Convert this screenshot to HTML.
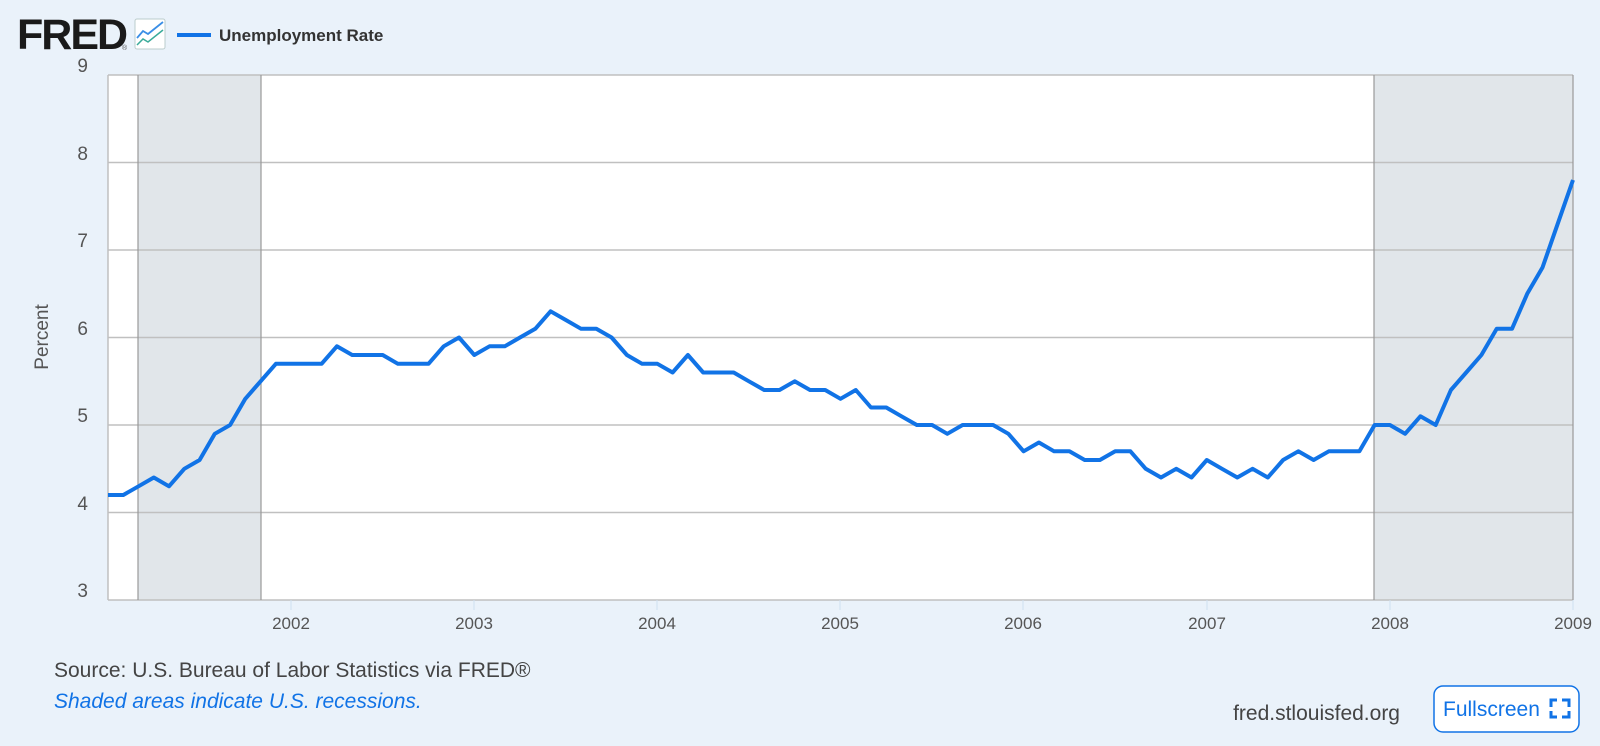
<!DOCTYPE html>
<html><head><meta charset="utf-8"><style>
html,body{margin:0;padding:0;background:#eaf2fa;}
svg{display:block;font-family:"Liberation Sans",sans-serif;}
</style></head><body>
<svg width="1600" height="746" viewBox="0 0 1600 746" xmlns="http://www.w3.org/2000/svg">
<rect width="1600" height="746" fill="#eaf2fa"/>
<text x="17" y="49" font-size="43" font-weight="bold" fill="#1a1a1a" letter-spacing="-2">FRED</text>
<text x="122" y="50" font-size="7" fill="#555">®</text>
<rect x="135" y="19" width="30" height="30" rx="2" fill="#fff" stroke="#bcc" stroke-width="1"/>
<polyline points="137,38 143,31 148,34 163,22" fill="none" stroke="#3a8ee6" stroke-width="1.8"/>
<polyline points="137,45 143,39 148,42 163,30" fill="none" stroke="#3aab9a" stroke-width="1.5"/>
<line x1="177" y1="35" x2="211" y2="35" stroke="#1173e6" stroke-width="4"/>
<text x="219" y="41" font-size="17" font-weight="bold" fill="#333">Unemployment Rate</text>
<rect x="108" y="75" width="1465" height="525" fill="#fff"/>
<rect x="138" y="75" width="123" height="525" fill="#e1e6ea"/>
<rect x="1374" y="75" width="199" height="525" fill="#e1e6ea"/>
<g stroke="#c0c0c0" stroke-width="1.5">
<line x1="108" y1="75" x2="1573" y2="75"/><line x1="108" y1="162.5" x2="1573" y2="162.5"/>
<line x1="108" y1="250" x2="1573" y2="250"/><line x1="108" y1="337.5" x2="1573" y2="337.5"/>
<line x1="108" y1="425" x2="1573" y2="425"/><line x1="108" y1="512.5" x2="1573" y2="512.5"/>
<line x1="108" y1="600" x2="1573" y2="600"/>
</g>
<g stroke="#999" stroke-width="1.2"><line x1="138" y1="75" x2="138" y2="600"/><line x1="261" y1="75" x2="261" y2="600"/><line x1="1374" y1="75" x2="1374" y2="600"/><line x1="1573" y1="75" x2="1573" y2="600"/></g>
<line x1="108" y1="75" x2="108" y2="600" stroke="#c0c0c0" stroke-width="1.5"/>
<g font-size="19" fill="#555" text-anchor="end">
<text x="88" y="72">9</text><text x="88" y="160">8</text><text x="88" y="247">7</text><text x="88" y="335">6</text><text x="88" y="422">5</text><text x="88" y="510">4</text><text x="88" y="597">3</text>
</g>
<text transform="translate(48,337) rotate(-90)" font-size="19" fill="#555" text-anchor="middle">Percent</text>
<g stroke="#cfe0f0" stroke-width="1"><line x1="291" y1="600" x2="291" y2="610"/><line x1="474" y1="600" x2="474" y2="610"/><line x1="657" y1="600" x2="657" y2="610"/><line x1="840" y1="600" x2="840" y2="610"/><line x1="1023" y1="600" x2="1023" y2="610"/><line x1="1207" y1="600" x2="1207" y2="610"/><line x1="1390" y1="600" x2="1390" y2="610"/><line x1="1573" y1="600" x2="1573" y2="610"/></g>
<g font-size="17" fill="#555" text-anchor="middle">
<text x="291" y="629">2002</text><text x="474" y="629">2003</text><text x="657" y="629">2004</text><text x="840" y="629">2005</text><text x="1023" y="629">2006</text><text x="1207" y="629">2007</text><text x="1390" y="629">2008</text><text x="1573" y="629">2009</text>
</g>
<polyline id="s" fill="none" stroke="#1173e6" stroke-width="4" stroke-linejoin="round" points=""/>
<text x="54" y="677" font-size="21" fill="#444">Source: U.S. Bureau of Labor Statistics via FRED®</text>
<text x="54" y="708" font-size="21" fill="#1173e6" font-style="italic">Shaded areas indicate U.S. recessions.</text>
<text x="1400" y="720" font-size="21" fill="#444" text-anchor="end">fred.stlouisfed.org</text>
<rect x="1434" y="686" width="145" height="46" rx="9" fill="#fff" stroke="#1173e6" stroke-width="1.5"/>
<text x="1443" y="716" font-size="21" fill="#1173e6">Fullscreen</text>
<g stroke="#1173e6" stroke-width="3" fill="none"><polyline points="1551,707 1551,700 1557,700"/><polyline points="1562,700 1569,700 1569,707"/><polyline points="1551,711 1551,717 1557,717"/><polyline points="1562,717 1569,717 1569,711"/></g>
</svg>
<script>
var d=[4.2,4.2,4.3,4.4,4.3,4.5,4.6,4.9,5.0,5.3,5.5,5.7,5.7,5.7,5.7,5.9,5.8,5.8,5.8,5.7,5.7,5.7,5.9,6.0,5.8,5.9,5.9,6.0,6.1,6.3,6.2,6.1,6.1,6.0,5.8,5.7,5.7,5.6,5.8,5.6,5.6,5.6,5.5,5.4,5.4,5.5,5.4,5.4,5.3,5.4,5.2,5.2,5.1,5.0,5.0,4.9,5.0,5.0,5.0,4.9,4.7,4.8,4.7,4.7,4.6,4.6,4.7,4.7,4.5,4.4,4.5,4.4,4.6,4.5,4.4,4.5,4.4,4.6,4.7,4.6,4.7,4.7,4.7,5.0,5.0,4.9,5.1,5.0,5.4,5.6,5.8,6.1,6.1,6.5,6.8,7.3,7.8];
var p=d.map(function(v,i){return (108+i*1465/96).toFixed(1)+","+(600-(v-3)*87.5).toFixed(1)}).join(" ");
document.getElementById("s").setAttribute("points",p);
</script>
</body></html>
